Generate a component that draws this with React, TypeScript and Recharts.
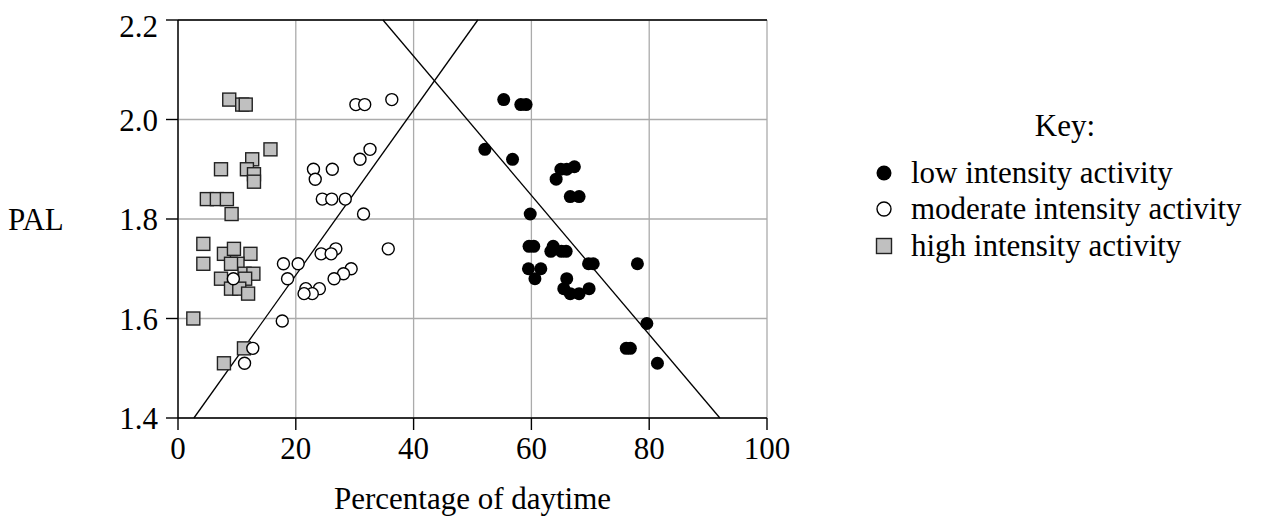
import React from "react";
import {
  ScatterChart,
  Scatter,
  XAxis,
  YAxis,
  CartesianGrid,
  ReferenceLine,
  Legend,
} from "recharts";

const FONT = '"Liberation Serif", "Times New Roman", serif';
const FONT_SIZE = 31;

const X_TICKS = [0, 20, 40, 60, 80, 100];
const Y_TICKS = [1.4, 1.6, 1.8, 2.0, 2.2];

const LOW = [
  { x: 55.3, y: 2.04 }, { x: 58.2, y: 2.03 }, { x: 59.1, y: 2.03 },
  { x: 52.1, y: 1.94 }, { x: 56.8, y: 1.92 },
  { x: 65.0, y: 1.9 }, { x: 66.0, y: 1.9 }, { x: 67.3, y: 1.905 }, { x: 64.2, y: 1.88 },
  { x: 66.6, y: 1.845 }, { x: 68.1, y: 1.845 }, { x: 59.8, y: 1.81 },
  { x: 59.6, y: 1.745 }, { x: 60.4, y: 1.745 }, { x: 63.7, y: 1.745 }, { x: 63.3, y: 1.735 },
  { x: 65.1, y: 1.735 }, { x: 65.9, y: 1.735 },
  { x: 69.7, y: 1.71 }, { x: 70.5, y: 1.71 }, { x: 78.0, y: 1.71 },
  { x: 59.5, y: 1.7 }, { x: 61.6, y: 1.7 }, { x: 60.6, y: 1.68 }, { x: 66.0, y: 1.68 },
  { x: 65.5, y: 1.66 }, { x: 66.6, y: 1.65 }, { x: 68.1, y: 1.65 }, { x: 69.8, y: 1.66 },
  { x: 79.6, y: 1.59 }, { x: 76.1, y: 1.54 }, { x: 76.8, y: 1.54 }, { x: 81.4, y: 1.51 },
];

const MODERATE = [
  { x: 30.2, y: 2.03 }, { x: 31.7, y: 2.03 }, { x: 36.3, y: 2.04 },
  { x: 32.6, y: 1.94 }, { x: 30.9, y: 1.92 },
  { x: 23.0, y: 1.9 }, { x: 26.2, y: 1.9 }, { x: 23.3, y: 1.88 },
  { x: 24.5, y: 1.84 }, { x: 26.1, y: 1.84 }, { x: 28.4, y: 1.84 }, { x: 31.5, y: 1.81 },
  { x: 35.7, y: 1.74 }, { x: 26.8, y: 1.74 }, { x: 24.3, y: 1.73 }, { x: 26.0, y: 1.73 },
  { x: 20.4, y: 1.71 }, { x: 17.9, y: 1.71 }, { x: 18.6, y: 1.68 },
  { x: 29.4, y: 1.7 }, { x: 28.1, y: 1.69 }, { x: 26.5, y: 1.68 },
  { x: 24.0, y: 1.66 }, { x: 21.7, y: 1.66 }, { x: 22.8, y: 1.65 }, { x: 21.4, y: 1.65 },
  { x: 17.7, y: 1.595 }, { x: 12.7, y: 1.54 }, { x: 11.3, y: 1.51 }, { x: 9.4, y: 1.68 },
];

const HIGH = [
  { x: 8.7, y: 2.04 }, { x: 10.9, y: 2.03 }, { x: 11.5, y: 2.03 },
  { x: 15.7, y: 1.94 }, { x: 12.6, y: 1.92 }, { x: 7.3, y: 1.9 }, { x: 11.7, y: 1.9 },
  { x: 12.9, y: 1.89 }, { x: 12.9, y: 1.875 },
  { x: 4.9, y: 1.84 }, { x: 6.6, y: 1.84 }, { x: 8.3, y: 1.84 }, { x: 9.1, y: 1.81 },
  { x: 4.3, y: 1.75 }, { x: 4.3, y: 1.71 }, { x: 7.8, y: 1.73 }, { x: 9.5, y: 1.74 },
  { x: 12.3, y: 1.73 }, { x: 10.1, y: 1.71 }, { x: 9.0, y: 1.71 }, { x: 7.3, y: 1.68 },
  { x: 11.3, y: 1.69 }, { x: 12.8, y: 1.69 }, { x: 11.4, y: 1.68 },
  { x: 9.0, y: 1.66 }, { x: 10.4, y: 1.66 }, { x: 11.9, y: 1.65 },
  { x: 2.6, y: 1.6 }, { x: 11.2, y: 1.54 }, { x: 7.8, y: 1.51 },
];

// the two hand-drawn trend lines
const RISING_LINE = [{ x: 2.7, y: 1.4 }, { x: 50.9, y: 2.2 }];
const FALLING_LINE = [{ x: 34.8, y: 2.2 }, { x: 92.0, y: 1.4 }];

const LEGEND_ITEMS = [
  { key: "low", label: "low intensity activity" },
  { key: "moderate", label: "moderate intensity activity" },
  { key: "high", label: "high intensity activity" },
];

const LowDot = (p: any) => <circle cx={p.cx} cy={p.cy} r={6.5} fill="#000" />;
const ModerateDot = (p: any) => (
  <circle cx={p.cx} cy={p.cy} r={6} fill="#fff" stroke="#000" strokeWidth={1.4} />
);
const HighSquare = (p: any) => (
  <rect x={p.cx - 6.5} y={p.cy - 6.5} width={13} height={13} fill="#c0c0c0" stroke="#222" strokeWidth={1.4} />
);

const Marker = ({ kind }: { kind: string }) => (
  <svg width={18} height={18} style={{ display: "block" }}>
    {kind === "low" && <circle cx={9} cy={9} r={7.5} fill="#000" />}
    {kind === "moderate" && <circle cx={9} cy={9} r={7} fill="#fff" stroke="#000" strokeWidth={1.4} />}
    {kind === "high" && <rect x={1.5} y={1.5} width={15} height={15} fill="#c0c0c0" stroke="#222" strokeWidth={1.4} />}
  </svg>
);

const KeyLegend = () => (
  <div style={{ fontFamily: FONT, fontSize: FONT_SIZE, color: "#000", lineHeight: "36.5px" }}>
    <div style={{ textAlign: "center", marginBottom: 10 }}>Key:</div>
    {LEGEND_ITEMS.map((item) => (
      <div key={item.key} style={{ display: "flex", alignItems: "center", whiteSpace: "nowrap" }}>
        <Marker kind={item.key} />
        <span style={{ marginLeft: 18 }}>{item.label}</span>
      </div>
    ))}
  </div>
);

const TICK_STYLE = { fill: "#000", fontSize: FONT_SIZE, fontFamily: FONT };

export default function App() {
  return (
    <div style={{ width: 1245, height: 511 }}>
      <ScatterChart width={1245} height={511} margin={{ top: 12, right: 486, bottom: 0, left: 0 }}>
        <CartesianGrid stroke="#ababab" strokeWidth={1.3} />
        <XAxis
          type="number"
          dataKey="x"
          domain={[0, 100]}
          ticks={X_TICKS}
          height={101}
          tick={TICK_STYLE}
          tickSize={12}
          tickMargin={7}
          stroke="#000"
          strokeWidth={1.4}
          label={{
            value: "Percentage of daytime",
            position: "insideBottom",
            offset: 10,
            style: { fill: "#000", fontSize: FONT_SIZE, fontFamily: FONT },
          }}
        />
        <YAxis
          type="number"
          dataKey="y"
          domain={[1.4, 2.2]}
          ticks={Y_TICKS}
          width={170}
          tick={TICK_STYLE}
          tickSize={12}
          tickMargin={8}
          tickFormatter={(v: number) => v.toFixed(1)}
          stroke="#000"
          strokeWidth={1.4}
          label={{
            value: "PAL",
            position: "insideLeft",
            offset: 0,
            angle: 0,
            style: { fill: "#000", fontSize: FONT_SIZE, fontFamily: FONT },
          }}
        />
        <ReferenceLine y={2.2} stroke="#000" strokeWidth={1.4} />
        <Scatter name="high intensity activity" data={HIGH} shape={HighSquare} isAnimationActive={false} />
        <Scatter name="moderate intensity activity" data={MODERATE} shape={ModerateDot} isAnimationActive={false} />
        <Scatter name="low intensity activity" data={LOW} shape={LowDot} isAnimationActive={false} />
        <ReferenceLine segment={RISING_LINE} stroke="#000" strokeWidth={1.3} />
        <ReferenceLine segment={FALLING_LINE} stroke="#000" strokeWidth={1.3} />
        <Legend
          layout="vertical"
          align="center"
          verticalAlign="middle"
          content={<KeyLegend />}
          wrapperStyle={{ left: 867, top: 100, width: 380 }}
        />
      </ScatterChart>
    </div>
  );
}
